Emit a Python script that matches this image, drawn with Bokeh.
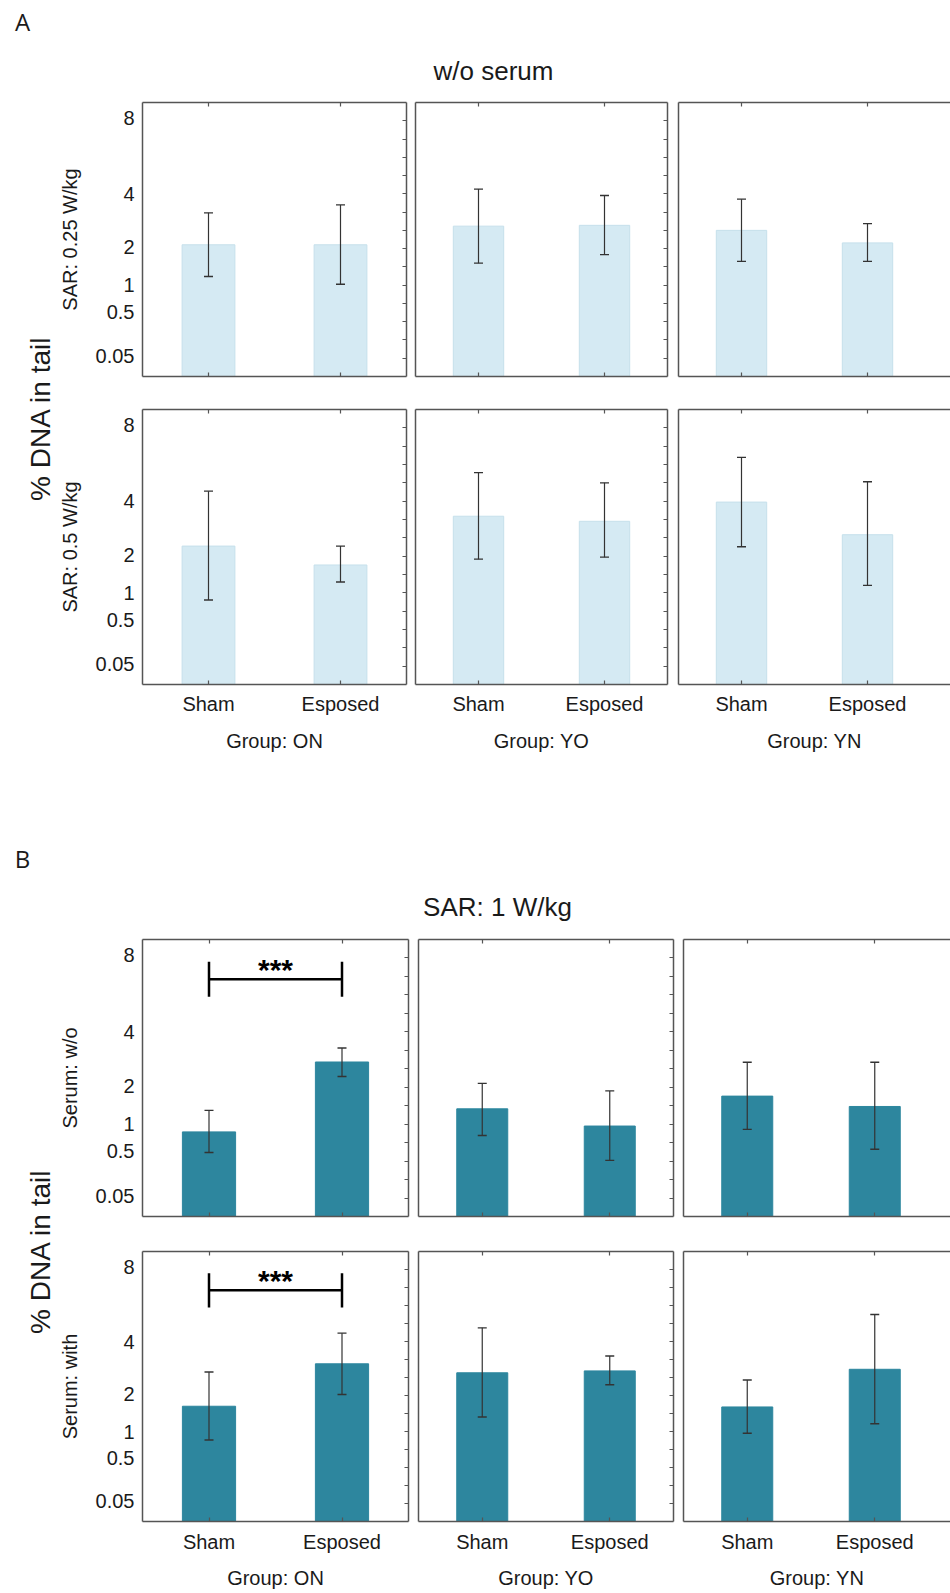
import numpy as np
from bokeh.plotting import figure
from bokeh.models import ColumnDataSource, LinearAxis, FixedTicker, Range1d, Whisker, TeeHead, Label
from bokeh.layouts import row, column
from bokeh.embed import file_html
from bokeh.resources import INLINE
from bokeh.core.properties import value

# ---------------- data ----------------
groups = ["ON", "YO", "YN"]
conditions = ["Sham", "Esposed"]
y_tick_values = [0.05, 0.5, 1, 2, 4, 8]
y_tick_labels = ["0.05", "0.5", "1", "2", "4", "8"]
y_max = 9
y_label = "% DNA in tail"

panelA_title = "w/o serum"
panelA_rows = ["SAR: 0.25 W/kg", "SAR: 0.5 W/kg"]
# per group: [Sham, Esposed]
A_sar025_mean = [[2.08, 2.08], [2.71, 2.74], [2.56, 2.14]]
A_sar025_lo = [[1.20, 1.02], [1.54, 1.78], [1.59, 1.59]]
A_sar025_hi = [[3.21, 3.53], [4.21, 3.93], [3.77, 2.80]]
A_sar05_mean = [[2.28, 1.70], [3.37, 3.17], [3.96, 2.67]]
A_sar05_lo = [[0.85, 1.25], [1.87, 1.93], [2.26, 1.17]]
A_sar05_hi = [[4.45, 2.28], [5.34, 4.84], [6.14, 4.89]]

panelB_title = "SAR: 1 W/kg"
panelB_rows = ["Serum: w/o", "Serum: with"]
B_wo_mean = [[0.84, 2.80], [1.36, 0.96], [1.70, 1.42]]
B_wo_lo = [[0.48, 2.30], [0.77, 0.37], [0.89, 0.53]]
B_wo_hi = [[1.32, 3.33], [2.08, 1.85], [2.79, 2.79]]
B_with_mean = [[1.64, 3.07], [2.73, 2.80], [1.62, 2.86]]
B_with_lo = [[0.82, 1.99], [1.35, 2.31], [0.96, 1.18]]
B_with_hi = [[2.76, 4.38], [4.63, 3.38], [2.47, 5.29]]

sig_group = "ON"
sig_level = 6.6
sig_text = "***"

# ---------------- style ----------------
FONT = "Liberation Sans"
FRAME = "#555555"
TXT = "#1a1a1a"
ERR = "#333333"
COLOR_A = "#d5eaf3"
EDGE_A = "#c6e0eb"
COLOR_B = "#2d869e"
EDGE_B = "#2d869e"

GEO = {
    "A": dict(fw=[266, 252, 272], bl=[85, 5, 6], br=[4, 5, 0],
              fh=[274, 275], bt=[12, 17], bb=[16, 76],
              tick_standoff=8, label_standoff=12),
    "B": dict(fw=[267, 255, 267], bl=[86, 5, 5], br=[5, 5, 0],
              fh=[277, 277], bt=[13, 18], bb=[17, 63],
              tick_standoff=9, label_standoff=11),
}

ysq_ticks = [float(np.sqrt(v)) for v in y_tick_values]
minor_right = [round(0.2 * k, 2) for k in range(1, 15)]


def axis(**kw):
    base = dict(axis_line_color=FRAME, axis_line_width=1.5,
                major_tick_line_color=FRAME, major_tick_line_width=1.2,
                minor_tick_line_color=FRAME, minor_tick_line_width=1.2,
                major_label_text_font=FONT, major_label_text_color=TXT,
                axis_label_text_font=FONT, axis_label_text_font_style="normal",
                axis_label_text_color=TXT)
    base.update(kw)
    return LinearAxis(**base)


def tick_only_axis(positions):
    # axis line with inward ticks and no labels
    return axis(ticker=FixedTicker(ticks=[], minor_ticks=positions),
                minor_tick_in=4, minor_tick_out=0, major_tick_in=0, major_tick_out=0,
                major_label_standoff=0)


def make_sub(panel, r, gi, mean, lo, hi, row_label, color, edge, sig=False):
    g = GEO[panel]
    fw, fh = g["fw"][gi], g["fh"][r]
    bl, br, bt, bb = g["bl"][gi], g["br"][gi], g["bt"][r], g["bb"][r]
    if gi < 2:
        x_end = 2.5
    else:
        x_end = 0.5 + fw / (g["fw"][1] / 2.0)
    p = figure(width=bl + fw + br, height=bt + fh + bb,
               x_range=Range1d(0.5, x_end), y_range=Range1d(0, float(np.sqrt(y_max))),
               x_axis_type=None, y_axis_type=None, toolbar_location=None,
               output_backend="svg", min_border_left=bl, min_border_right=br,
               min_border_top=bt, min_border_bottom=bb)
    p.outline_line_color = None
    p.background_fill_color = "white"
    p.border_fill_color = "white"

    xs = [i + 1 for i in range(len(conditions))]
    src = ColumnDataSource(dict(x=xs, top=np.sqrt(mean), lo=np.sqrt(lo), hi=np.sqrt(hi)))
    p.vbar(x="x", top="top", bottom=0, width=0.4, source=src,
           fill_color=color, line_color=edge, line_width=1)
    p.add_layout(Whisker(source=src, base="x", lower="lo", upper="hi", dimension="height",
                         line_color=ERR, line_width=1.2, level="overlay",
                         upper_head=TeeHead(size=9, line_color=ERR, line_width=1.4),
                         lower_head=TeeHead(size=9, line_color=ERR, line_width=1.4)))

    if sig:
        ys = float(np.sqrt(sig_level))
        p.segment(x0=[xs[0]], y0=[ys], x1=[xs[1]], y1=[ys], line_color="black", line_width=2.5)
        p.segment(x0=xs, y0=[ys - 0.19] * 2, x1=xs, y1=[ys + 0.19] * 2,
                  line_color="black", line_width=2.5)
        p.text(x=[(xs[0] + xs[1]) / 2], y=[ys], text=[sig_text], text_align="center",
               text_baseline="middle", y_offset=-10, text_font=value(FONT),
               text_font_style="bold", text_font_size="30px", text_color="black")

    # left axis
    if gi == 0:
        left = axis(ticker=FixedTicker(ticks=ysq_ticks),
                    major_label_overrides={t: lab for t, lab in zip(ysq_ticks, y_tick_labels)},
                    major_tick_in=0, major_tick_out=0, major_label_standoff=8,
                    major_label_text_font_size="20px",
                    axis_label=row_label, axis_label_text_font_size="20px",
                    axis_label_standoff=12)
    else:
        left = axis(ticker=FixedTicker(ticks=[]), major_tick_in=0, major_tick_out=0,
                    major_label_standoff=0)
    p.add_layout(left, "left")

    # right axis with inward ticks (the last column is cut off at the edge)
    if gi < 2:
        p.add_layout(tick_only_axis(minor_right), "right")

    p.add_layout(tick_only_axis(xs), "above")

    if r == 1:
        bottom = axis(ticker=FixedTicker(ticks=xs),
                      major_label_overrides={x: c for x, c in zip(xs, conditions)},
                      major_tick_in=4, major_tick_out=0,
                      major_label_standoff=g["tick_standoff"],
                      major_label_text_font_size="20px",
                      axis_label="Group: " + groups[gi], axis_label_text_font_size="20px",
                      axis_label_standoff=g["label_standoff"])
    else:
        bottom = tick_only_axis(xs)
    p.add_layout(bottom, "below")
    return p


def blank(w, h):
    p = figure(width=w, height=h, x_range=Range1d(0, w), y_range=Range1d(0, h),
               x_axis_type=None, y_axis_type=None, toolbar_location=None,
               output_backend="svg", min_border=0)
    p.outline_line_color = None
    p.background_fill_color = "white"
    p.border_fill_color = "white"
    return p


def lab(p, x, y, text, size, angle=0.0, style="normal", font=FONT):
    p.add_layout(Label(x=x, y=y, text=text, text_align="center", text_baseline="middle",
                       text_font=font, text_font_size=size, text_color=TXT,
                       angle=angle, text_font_style=style))


W = 950
# header A (page y 0-90)
hA = blank(W, 90)
lab(hA, 22, 69, "A", "24px", font="Open Sans")
lab(hA, 493, 20, panelA_title, "26px")

# header B (page y 760-926)
hB = blank(W, 166)
lab(hB, 22, 68, "B", "24px", font="Open Sans")
lab(hB, 497, 20, panelB_title, "26px")

A_means = [A_sar025_mean, A_sar05_mean]
A_los = [A_sar025_lo, A_sar05_lo]
A_his = [A_sar025_hi, A_sar05_hi]
B_means = [B_wo_mean, B_with_mean]
B_los = [B_wo_lo, B_with_lo]
B_his = [B_wo_hi, B_with_hi]

rowsA = []
for r in range(2):
    rowsA.append(row(*[make_sub("A", r, gi, A_means[r][gi], A_los[r][gi], A_his[r][gi],
                                panelA_rows[r], COLOR_A, EDGE_A) for gi in range(3)]))
rowsB = []
for r in range(2):
    rowsB.append(row(*[make_sub("B", r, gi, B_means[r][gi], B_los[r][gi], B_his[r][gi],
                                panelB_rows[r], COLOR_B, EDGE_B, sig=(groups[gi] == sig_group))
                       for gi in range(3)]))

hA_rows = sum(GEO["A"]["bt"][r] + GEO["A"]["fh"][r] + GEO["A"]["bb"][r] for r in range(2))
hB_rows = sum(GEO["B"]["bt"][r] + GEO["B"]["fh"][r] + GEO["B"]["bb"][r] for r in range(2))

sA = blank(55, hA_rows)
lab(sA, 40, hA_rows - 328, y_label, "28px", angle=np.pi / 2)
sB = blank(55, hB_rows)
lab(sB, 40, hB_rows - 325, y_label, "28px", angle=np.pi / 2)

layout = column(hA, row(sA, column(*rowsA)), hB, row(sB, column(*rowsB)))

open("out.html", "w").write(file_html(layout, INLINE))
